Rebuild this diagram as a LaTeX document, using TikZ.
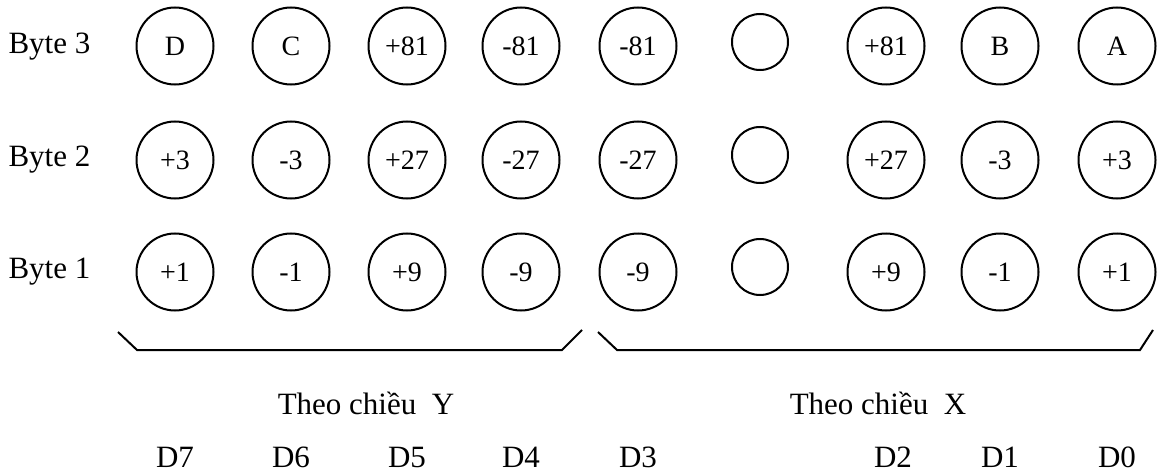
\documentclass[tikz,border=0pt]{standalone}
\usepackage{fontspec}
\setmainfont{Liberation Serif}
\begin{document}
\begin{tikzpicture}[x=1pt,y=-1pt,
  cell/.style={circle,draw,line width=2pt,minimum size=77pt,inner sep=0pt,font=\fontsize{28}{28}\selectfont},
  emptycell/.style={circle,draw,line width=2pt,minimum size=56pt,inner sep=0pt},
  lbl/.style={font=\fontsize{31}{31}\selectfont},
  bracket/.style={line width=2pt}]
\useasboundingbox (0,0) rectangle (1159,476);
% row labels
\node[lbl,anchor=west] (b3) at (5,47) {Byte 3};
\node[lbl,anchor=west] (b2) at (5,160) {Byte 2};
\node[lbl,anchor=west] (b1) at (5,272) {Byte 1};
% Byte 3
\node[cell] (r3c1) at (175,46) {D};
\node[cell] (r3c2) at (291,46) {C};
\node[cell] (r3c3) at (407,46) {+81};
\node[cell] (r3c4) at (521,46) {-81};
\node[cell] (r3c5) at (638,46) {-81};
\node[emptycell] (r3c6) at (760,42) {};
\node[cell] (r3c7) at (886,46) {+81};
\node[cell] (r3c8) at (1000,46) {B};
\node[cell] (r3c9) at (1117,46) {A};
% Byte 2
\node[cell] (r2c1) at (175,160) {+3};
\node[cell] (r2c2) at (291,160) {-3};
\node[cell] (r2c3) at (407,160) {+27};
\node[cell] (r2c4) at (521,160) {-27};
\node[cell] (r2c5) at (638,160) {-27};
\node[emptycell] (r2c6) at (760,155) {};
\node[cell] (r2c7) at (886,160) {+27};
\node[cell] (r2c8) at (1000,160) {-3};
\node[cell] (r2c9) at (1117,160) {+3};
% Byte 1
\node[cell] (r1c1) at (175,272) {+1};
\node[cell] (r1c2) at (291,272) {-1};
\node[cell] (r1c3) at (407,272) {+9};
\node[cell] (r1c4) at (521,272) {-9};
\node[cell] (r1c5) at (638,272) {-9};
\node[emptycell] (r1c6) at (760,267) {};
\node[cell] (r1c7) at (886,272) {+9};
\node[cell] (r1c8) at (1000,272) {-1};
\node[cell] (r1c9) at (1117,272) {+1};
% brackets
\draw[bracket] (118,332) -- (137,350) -- (562,350) -- (582,330);
\draw[bracket] (598,332) -- (617,350) -- (1140,350) -- (1153,330);
\node[lbl] (ty) at (366,403) {Theo chiều\ \ Y};
\node[lbl] (tx) at (878,403) {Theo chiều\ \ X};
% bit labels
\node[lbl] (d7) at (175,457) {D7};
\node[lbl] (d6) at (291,457) {D6};
\node[lbl] (d5) at (407,457) {D5};
\node[lbl] (d4) at (521,457) {D4};
\node[lbl] (d3) at (638,457) {D3};
\node[lbl] (d2) at (893,457) {D2};
\node[lbl] (d1) at (1000,457) {D1};
\node[lbl] (d0) at (1117,457) {D0};
\end{tikzpicture}
\end{document}
